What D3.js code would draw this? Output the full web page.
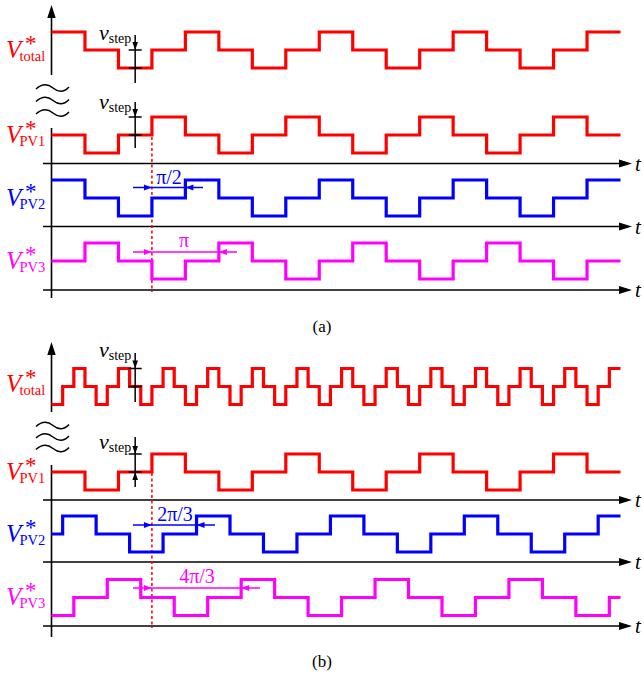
<!DOCTYPE html>
<html><head><meta charset="utf-8">
<script src="https://cdn.jsdelivr.net/npm/d3@7"></script>
<style>body{margin:0;background:#fff}</style>
</head><body>
<svg id="c" width="644" height="682"></svg>
<script>
// Time in units of pi/6; t from 0 to 51.  Levels: +1 high, 0 middle, -1 low.
const tMax = 51;
// (a) each segment lasts pi/2 (3 units)
const totalA = [1,0,-1,0,1,0,-1,0,1,0,-1,0,1,0,-1,0,1];
const pv1A   = [0,-1,0,1,0,-1,0,1,0,-1,0,1,0,-1,0,1,0];
const pv2A   = [1,0,-1,0,1,0,-1,0,1,0,-1,0,1,0,-1,0,1];
const pv3A   = [0,1,0,-1,0,1,0,-1,0,1,0,-1,0,1,0,-1,0];
// (b) total: each segment pi/6 (1 unit); PVs: pi/2 segments with offsets
const totalB = [-1,0,1,0,-1,0,1,0,-1,0,1,0,-1,0,1,0,-1,0,1,0,-1,0,1,0,-1,0,1,0,-1,0,1,0,-1,0,1,0,-1,0,1,0,-1,0,1,0,-1,0,1,0,-1,0,1];
const pv1B   = [0,-1,0,1,0,-1,0,1,0,-1,0,1,0,-1,0,1,0];
const pv2B   = [0,1,0,-1,0,1,0,-1,0,1,0,-1,0,1,0,-1,0,1];
const pv3B   = [-1,0,1,0,-1,0,1,0,-1,0,1,0,-1,0,1,0,-1,0];
const segOffsets = [0,0,0,0, 0,0,-2,-1];
const segWidths  = [3,3,3,3, 1,3,3,3];
const seriesNames = ["total","PV1","PV2","PV3","total","PV1","PV2","PV3"];
// phase annotations (labels, shift in pi/6 units)
const phaseLabels = ["π/2","π","2π/3","4π/3"];
const phaseShifts = [3,6,4,8];
const captions = ["(a)","(b)"];

const RED="#ff0000", BLUE="#0000ff", MAG="#ff00ff";
const colors=[RED,RED,BLUE,MAG,RED,RED,BLUE,MAG];
const mids=[50,135,198,261, 386.5,472,534,597.5];
const axesY=[null,163.5,226.5,290, null,500,562,626];
const allLevels=[totalA,pv1A,pv2A,pv3A,totalB,pv1B,pv2B,pv3B];
const FONT='"Liberation Serif","Times New Roman",serif';

const svg=d3.select("#c");
const x=d3.scaleLinear().domain([0,tMax]).range([51.5,620.5]);
const STEP=18;

function tri(g,pts,fill){g.append("path").attr("d","M"+pts.map(p=>p.join(",")).join("L")+"Z").attr("fill",fill);}

// vertical axes
const vAxes=[{top:5,brk:75,start:128,end:298,waves:[88,100.5,113]},{top:342,brk:412,start:465,end:637,waves:[425.5,437,448.5]}];
vAxes.forEach(a=>{
  svg.append("line").attr("x1",51.5).attr("x2",51.5).attr("y1",a.top+8).attr("y2",a.brk).attr("stroke","#000").attr("stroke-width",1.6);
  tri(svg,[[51.5,a.top],[47.3,a.top+13],[55.7,a.top+13]],"#000");
  svg.append("line").attr("x1",51.5).attr("x2",51.5).attr("y1",a.start).attr("y2",a.end).attr("stroke","#000").attr("stroke-width",1.6);
  a.waves.forEach(wy=>{
    svg.append("path").attr("d",`M36,${wy+1} Q44.5,${wy-7} 53,${wy} T69,${wy-1}`).attr("fill","none").attr("stroke","#000").attr("stroke-width",1.5);
  });
});

// horizontal axes
axesY.forEach(ay=>{
  if(ay===null) return;
  svg.append("line").attr("x1",43).attr("x2",624).attr("y1",ay).attr("y2",ay).attr("stroke","#000").attr("stroke-width",1.6);
  tri(svg,[[632,ay],[619,ay-4],[619,ay+4]],"#000");
  svg.append("text").attr("x",635).attr("y",ay+7).attr("font-family",FONT).attr("font-style","italic").attr("font-size",21).text("t");
});

// dashed reference lines at t = 9
[[137,292],[473,628]].forEach(([y1,y2])=>{
  svg.append("line").attr("x1",x(9)).attr("x2",x(9)).attr("y1",y1).attr("y2",y2).attr("stroke",RED).attr("stroke-width",1.5).attr("stroke-dasharray","3,2.5");
});

// waveforms
const line=d3.line().curve(d3.curveStepAfter);
allLevels.forEach((lv,i)=>{
  const y=d3.scaleLinear().domain([-1,1]).range([mids[i]+STEP,mids[i]-STEP]);
  const pts=[];
  lv.forEach((L,j)=>{pts.push([x(Math.max(0,segOffsets[i]+j*segWidths[i])),y(L)]);});
  pts.push([x(tMax),y(lv[lv.length-1])]);
  svg.append("path").attr("d",line(pts)).attr("fill","none").attr("stroke",colors[i]).attr("stroke-width",3.2).attr("stroke-linejoin","miter");
  // label as a single text with positioned tspans
  const base=mids[i]+(i===4?5.5:7.5);
  const t=svg.append("text").attr("fill",colors[i]).attr("font-family",FONT);
  t.append("tspan").attr("x",6).attr("y",base).attr("font-size",25).attr("font-style","italic").text("V");
  t.append("tspan").attr("x",25).attr("y",base-7).attr("font-size",23).text("*");
  t.append("tspan").attr("x",19.5).attr("y",base+3).attr("font-size",14.5).text(seriesNames[i]);
});

// v_step markers
const vs=[{tick:50,lab:40,y1:35,y2:83,up:false},{tick:117,lab:109,y1:102,y2:148,up:false},
          {tick:368.5,lab:357,y1:353,y2:402,up:false},{tick:454,lab:449,y1:437,y2:487,up:true}];
vs.forEach(v=>{
  const cx=x(7.5);
  svg.append("line").attr("x1",cx).attr("x2",cx).attr("y1",v.y1).attr("y2",v.y2).attr("stroke","#000").attr("stroke-width",1.5);
  [v.tick,v.tick+STEP].forEach(ty=>svg.append("line").attr("x1",cx-6.5).attr("x2",cx+6.5).attr("y1",ty).attr("y2",ty).attr("stroke","#000").attr("stroke-width",1.5));
  tri(svg,[[cx,v.tick],[cx-2.8,v.tick-8],[cx+2.8,v.tick-8]],"#000");
  if(v.up) tri(svg,[[cx,v.tick+STEP],[cx-2.8,v.tick+STEP+8],[cx+2.8,v.tick+STEP+8]],"#000");
  const t=svg.append("text").attr("x",99).attr("y",v.lab).attr("font-family",FONT).attr("fill","#000");
  t.append("tspan").attr("font-style","italic").attr("font-size",22).text("v");
  t.append("tspan").attr("font-size",14).attr("dy",3).text("step");
});

// phase shift annotations
const ph=[{y:187.5,c:BLUE,ext:203,ty:183.5,tx:169},{y:252,c:MAG,ext:237,ty:246.5,tx:184},
          {y:525,c:BLUE,ext:215,ty:520.5,tx:175},{y:588,c:MAG,ext:260,ty:582.5,tx:197}];
ph.forEach((p,i)=>{
  const a=x(9), b=x(9+phaseShifts[i]);
  svg.append("line").attr("x1",133).attr("x2",p.ext).attr("y1",p.y).attr("y2",p.y).attr("stroke",p.c).attr("stroke-width",1.5);
  tri(svg,[[a,p.y],[a-8,p.y-3],[a-8,p.y+3]],p.c);
  tri(svg,[[b,p.y],[b+8,p.y-3],[b+8,p.y+3]],p.c);
  svg.append("text").attr("x",p.tx).attr("y",p.ty).attr("text-anchor","middle").attr("font-family",FONT).attr("font-size",20).attr("fill",p.c).text(phaseLabels[i]);
});

// captions
[[332,0],[667,1]].forEach(([cy,i])=>{
  svg.append("text").attr("x",322).attr("y",cy).attr("text-anchor","middle").attr("font-family",FONT).attr("font-size",17).attr("fill","#000").text(captions[i]);
});
</script>
</body></html>
